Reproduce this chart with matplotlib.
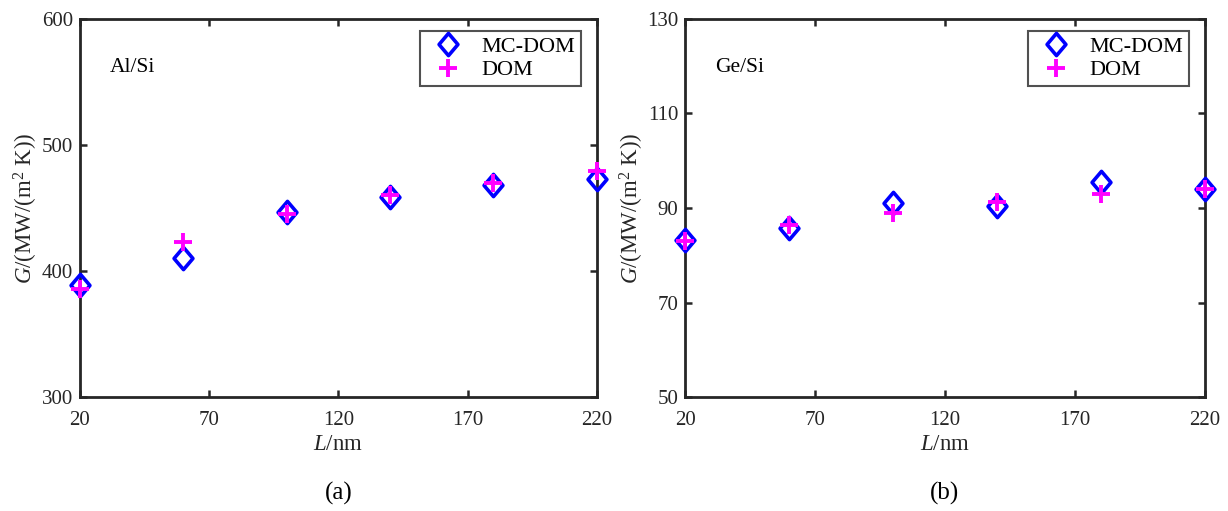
import matplotlib
matplotlib.use("Agg")
import matplotlib.pyplot as plt
from matplotlib.path import Path

plt.rcParams['font.family'] = ['Liberation Serif', 'DejaVu Serif']
plt.rcParams['mathtext.fontset'] = 'custom'
plt.rcParams['mathtext.rm'] = 'Liberation Serif'
plt.rcParams['mathtext.it'] = 'Liberation Serif:italic'

# data
L = [20, 60, 100, 140, 180, 220]
alsi_mcdom = [389, 410, 447, 459, 468, 473]
alsi_dom = [386, 423, 445, 460, 470, 479]
gesi_mcdom = [83.3, 85.8, 91.0, 90.4, 95.4, 94.0]
gesi_dom = [83.0, 86.5, 88.9, 91.2, 92.9, 94.1]

xticks = [20, 70, 120, 170, 220]
alsi_yticks = [300, 400, 500, 600]
gesi_yticks = [50, 70, 90, 110, 130]

# slightly tall diamond, like the matlab one
diamond = Path([(0, 1), (0.85, 0), (0, -1), (-0.85, 0), (0, 1)],
               [Path.MOVETO, Path.LINETO, Path.LINETO, Path.LINETO, Path.CLOSEPOLY])

fig = plt.figure(figsize=(12.28, 5.11), dpi=100)
ax1 = fig.add_axes([0.065, 0.223, 0.421, 0.740])
ax2 = fig.add_axes([0.558, 0.223, 0.423, 0.740])


def draw_panel(ax, mc, dom, yticks, label, tag):
    ax.plot(L, mc, linestyle='none', marker=diamond, markersize=16, markerfacecolor='none',
            markeredgecolor='#0000ff', markeredgewidth=2.6, label='MC-DOM', clip_on=False, zorder=3)
    ax.plot(L, dom, linestyle='none', marker='+', markersize=13, color='#ff00ff',
            markeredgewidth=2.8, label='DOM', clip_on=False, zorder=4)
    ax.set_xlim(20, 220)
    ax.set_ylim(yticks[0], yticks[-1])
    ax.set_xticks(xticks)
    ax.set_yticks(yticks)
    ax.tick_params(direction='in', length=5, width=1.8, labelsize=15, colors='#262626',
                   top=True, right=True, pad=5)
    ax.tick_params(axis='x', pad=10)
    for s in ax.spines.values():
        s.set_linewidth(2.0)
        s.set_color('#262626')
    ax.set_xlabel(r'$\it{L}$/nm', fontsize=16.5, color='#262626', labelpad=3)
    ax.set_ylabel(r'$\it{G}$/(MW/(m$^2$ K))', fontsize=16.5, color='#262626', labelpad=1)
    ax.text(0.058, 0.872, label, transform=ax.transAxes, fontsize=15.5, va='center')
    leg = ax.legend(loc='upper right', bbox_to_anchor=(0.969, 0.968), borderaxespad=0,
                    fontsize=16, frameon=True, fancybox=False, handletextpad=0.5,
                    borderpad=0.25, labelspacing=0.12, handlelength=2.0)
    leg.get_frame().set_edgecolor('#262626')
    leg.get_frame().set_linewidth(1.5)
    ax.text(0.5, -0.254, tag, transform=ax.transAxes, fontsize=18, ha='center', va='center')


draw_panel(ax1, alsi_mcdom, alsi_dom, alsi_yticks, 'Al/Si', '(a)')
draw_panel(ax2, gesi_mcdom, gesi_dom, gesi_yticks, 'Ge/Si', '(b)')

fig.savefig('out.png', dpi=100)
